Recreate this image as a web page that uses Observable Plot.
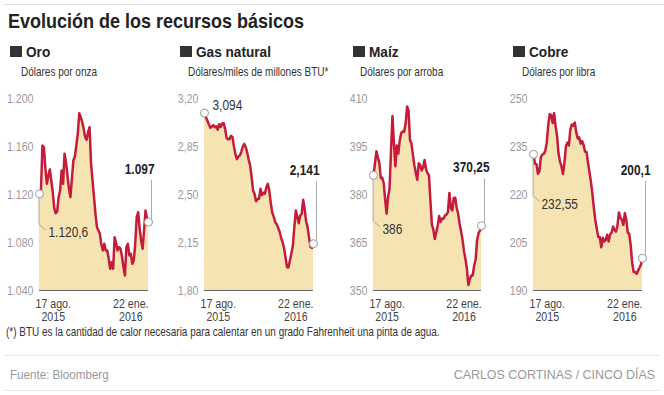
<!DOCTYPE html>
<html><head><meta charset="utf-8">
<script src="https://cdn.jsdelivr.net/npm/d3@7"></script>
<script src="https://cdn.jsdelivr.net/npm/@observablehq/plot@0.6"></script>
<style>
body{margin:0;background:#fff;}
#root{position:relative;width:664px;height:395px;overflow:hidden;}
#root svg{position:absolute;}
</style></head><body><div id="root"></div>
<script>
const FONT = '"Liberation Sans","Arial",sans-serif';
const FILL = "#f6e3b2";
const RED = "#c41c3d";

// x grid: one observation every 3 days
const startDate = new Date(2015, 6, 20);
const dates = d3.range(75).map(i => d3.timeDay.offset(startDate, 3 * i));
const xTicks = [new Date(2015, 7, 17), new Date(2016, 0, 22)];
const xTickLabels = ["17 ago.\n2015", "22 ene.\n2016"];

const names = ["Oro", "Gas natural", "Maíz", "Cobre"];
const units = ["Dólares por onza", "Dólares/miles de millones BTU*", "Dólares por arroba", "Dólares por libra"];

const oro = [1120.6,1123.3,1160.8,1159.4,1141.4,1128.9,1135.8,1140.8,1131.7,1121.9,1108.9,1104.4,1105.8,1117.8,1123.3,1140,1128.9,1153.9,1146.9,1135.8,1124.7,1117.8,1133.1,1148.3,1151.7,1160.8,1170.6,1187.8,1184.4,1180.3,1174.7,1167.8,1165.6,1171.9,1176.1,1145.6,1131.7,1117.8,1103.9,1092.8,1090,1087.2,1078.3,1073.3,1078.9,1073.3,1073.3,1066.4,1058.1,1063.6,1058.1,1084.4,1079.4,1073.3,1076.1,1074.7,1068.3,1059.4,1052.5,1076.1,1078.9,1069.2,1070.6,1062.2,1065,1078.9,1101.1,1105.3,1091.4,1081.7,1074.7,1090,1106.7,1099.7,1097];
const gas = [3.094,3.061,3.037,3.010,2.986,2.996,3.006,2.991,2.998,2.972,3.013,2.993,3.018,3.020,2.979,2.913,2.903,2.903,2.928,2.918,2.850,2.794,2.758,2.777,2.784,2.811,2.850,2.869,2.845,2.806,2.753,2.711,2.626,2.529,2.502,2.451,2.468,2.468,2.541,2.495,2.512,2.505,2.553,2.578,2.529,2.437,2.369,2.337,2.298,2.284,2.257,2.228,2.186,2.152,2.111,2.043,1.970,1.968,2.019,2.072,2.126,2.262,2.383,2.340,2.291,2.347,2.359,2.461,2.395,2.303,2.262,2.184,2.116,2.111,2.141];
const maiz = [386,389.6,393.5,391.6,389.9,385.1,385.2,383.6,378.3,374.0,379.4,381.8,393.8,404.5,395.8,388.8,395.3,392.8,396.9,399.2,399.7,399.6,402.1,407.5,406.3,396.9,396.0,392.4,389.1,386.7,384.6,389.8,389.2,387.5,388.5,390.8,387.9,386.7,386.0,378.1,370.6,369.0,366.1,368.2,370.3,373.3,371.4,372.5,372.4,373.4,373.7,374.5,380.5,375.8,375.0,378.9,379.0,375.8,374.0,370.8,368.5,365.9,362.3,359.8,356.8,351.7,353.6,354.7,354.7,357.9,359.7,365.8,368.0,368.7,370.25];
const cobre = [232.55,229.6,229.5,226.5,227.2,231.7,232.5,232.7,233.7,236.2,241.6,245.1,244.8,242.3,245.4,241.3,238.3,232.7,230.3,228.8,226.4,229.9,235.0,236.2,235.3,240.2,241.9,241.5,242.5,239.5,237.5,237.9,235.9,236.7,235.5,233.4,233.3,230.0,227.0,223.9,220.2,215.7,211.9,209.2,206.7,206.7,203.5,206.5,205.3,205.8,207.4,205.3,207.5,208.1,210.0,208.9,208.4,210.3,214.4,212.7,212.1,210.5,214.2,212.1,208.0,207.7,204.1,198.6,195.8,195.8,195.2,196.2,197.1,198.1,200.1];

const yTicks = [[1040,1080,1120,1160,1200],[1.8,2.15,2.5,2.85,3.2],[350,365,380,395,410],[190,205,220,235,250]];
const yTickLabels = [["1.040","1.080","1.120","1.160","1.200"],["1,80","2,15","2,50","2,85","3,20"],["350","365","380","395","410"],["190","205","220","235","250"]];
const startLabels = ["1.120,6","3,094","386","232,55"];
const endLabels = ["1.097","2,141","370,25","200,1"];

const series = [oro, gas, maiz, cobre];

// layout (pixels)
const layout = [
  {plotL:39,  plotR:148, sq:10,  sub:21,  sx:9, sy:39,   ex:6, ey:-53, startLeader:true},
  {plotL:204, plotR:313, sq:180, sub:188, sx:8, sy:-7.5, ex:6, ey:-73, startLeader:false},
  {plotL:373, plotR:481, sq:353, sub:360, sx:9, sy:54,   ex:8, ey:-58, startLeader:true},
  {plotL:533, plotR:642, sq:513, sub:522, sx:8, sy:50,   ex:8, ey:-88, startLeader:true}
];

// condense text horizontally (reference uses a condensed typeface); must be in the DOM
function narrow(svg, f) {
  svg.querySelectorAll("text").forEach(el => {
    const spans = el.querySelectorAll("tspan");
    const targets = spans.length ? [...spans] : [el];
    targets.forEach(t => {
      const len = t.getComputedTextLength();
      if (len > 0) {
        t.setAttribute("textLength", (len * f).toFixed(2));
        t.setAttribute("lengthAdjust", "spacingAndGlyphs");
      }
    });
  });
}

const root = document.getElementById("root");

// background text layer
const bg = d3.create("svg").attr("width", 664).attr("height", 395)
  .style("left", "0px").style("top", "0px").style("font-family", FONT);
function addText(x, y, str, o) {
  return bg.append("text")
    .attr("transform", `translate(${x},${y}) scale(${o.f},1)`)
    .attr("font-size", o.size).attr("font-weight", o.weight || "normal")
    .attr("fill", o.fill).attr("text-anchor", o.anchor || "start").text(str);
}
bg.append("line").attr("x1", 3).attr("x2", 664).attr("y1", 4.5).attr("y2", 4.5).attr("stroke", "#e3e3e3");
addText(8, 27.5, "Evolución de los recursos básicos", {size: 20, weight: "bold", fill: "#222", f: 0.9});
layout.forEach((L, k) => {
  bg.append("rect").attr("x", L.sq).attr("y", 46).attr("width", 12).attr("height", 11).attr("fill", "#333");
  addText(L.sq + 16, 57, names[k], {size: 15.5, weight: "bold", fill: "#222", f: 0.88});
  addText(L.sub, 75.5, units[k], {size: 12.5, fill: "#333", f: 0.8});
});
addText(6, 336, "(*) BTU es la cantidad de calor necesaria para calentar en un grado Fahrenheit una pinta de agua.",
  {size: 12, fill: "#333", f: 0.83});
bg.append("line").attr("x1", 4).attr("x2", 660).attr("y1", 355.5).attr("y2", 355.5).attr("stroke", "#e6e6e6");
addText(10, 378.5, "Fuente: Bloomberg", {size: 13.5, fill: "#999", f: 0.86});
addText(655, 378.5, "CARLOS CORTINAS / CINCO DÍAS", {size: 13.5, fill: "#999", f: 0.92, anchor: "end"});
bg.append("line").attr("x1", 4).attr("x2", 660).attr("y1", 390.5).attr("y2", 390.5).attr("stroke", "#e6e6e6");
root.appendChild(bg.node());

layout.forEach((L, k) => {
  const data = dates.map((d, i) => ({date: d, value: series[k][i]}));
  const first = data[0], last = data[data.length - 1];
  const ymin = yTicks[k][0], ymax = yTicks[k][yTicks[k].length - 1];
  const W = L.plotR - L.plotL;
  const leader = (index, scales) => {
    const x = scales.x, y = scales.y;
    const g = d3.create("svg:g").attr("fill", "none").attr("stroke", "#aaa").attr("stroke-width", 1);
    const px = x(last.date), py = y(last.value);
    g.append("path").attr("d", `M${px + 3.5},${py + L.ey + 11}V${py - 3}`);
    if (L.startLeader) {
      const sx = x(first.date), sy = y(first.value), ly = sy + L.sy;
      g.append("path").attr("d", `M${sx},${sy + 4}V${ly - 8}L${sx + 7},${ly - 2}`);
    }
    return g.node();
  };
  const chart = Plot.plot({
    width: W + 39 + 22, height: 244,
    marginLeft: 39, marginRight: 22, marginTop: 12, marginBottom: 40,
    style: {fontFamily: FONT, background: "transparent", overflow: "visible"},
    x: {type: "time", domain: [dates[0], dates[dates.length - 1]]},
    y: {domain: [ymin, ymax]},
    marks: [
      Plot.areaY(data, {x: "date", y1: ymin, y2: "value", fill: FILL}),
      Plot.ruleY([ymin], {stroke: "#666", strokeWidth: 1}),
      Plot.lineY(data, {x: "date", y: "value", stroke: RED, strokeWidth: 2.5, strokeLinejoin: "round"}),
      Plot.axisY(yTicks[k], {tickSize: 0, tickPadding: 6, fontSize: 12.5, fill: "#9a9a9a", label: null,
        tickFormat: v => yTickLabels[k][yTicks[k].indexOf(v)]}),
      Plot.axisX(xTicks, {tickSize: 0, tickPadding: 9, fontSize: 12.5, fill: "#444", lineHeight: 1, label: null,
        tickFormat: d => xTickLabels[xTicks.findIndex(t => +t === +d)]}),
      leader,
      Plot.dot([first, last], {x: "date", y: "value", r: 4, fill: "white", stroke: "#999", strokeWidth: 1}),
      Plot.text([first], {x: "date", y: "value", text: () => startLabels[k], dx: L.sx, dy: L.sy,
        textAnchor: "start", fontSize: 14, fill: "#333"}),
      Plot.text([last], {x: "date", y: "value", text: () => endLabels[k], dx: L.ex, dy: L.ey,
        textAnchor: "end", fontSize: 14, fontWeight: "bold", fill: "#222"})
    ]
  });
  chart.style.left = (L.plotL - 39) + "px";
  chart.style.top = "86px";
  chart.querySelectorAll('[aria-label="y-axis tick label"]').forEach(g => g.setAttribute("fill", "#9a9a9a"));
  root.appendChild(chart);
  narrow(chart, 0.85);
});
</script></body></html>
